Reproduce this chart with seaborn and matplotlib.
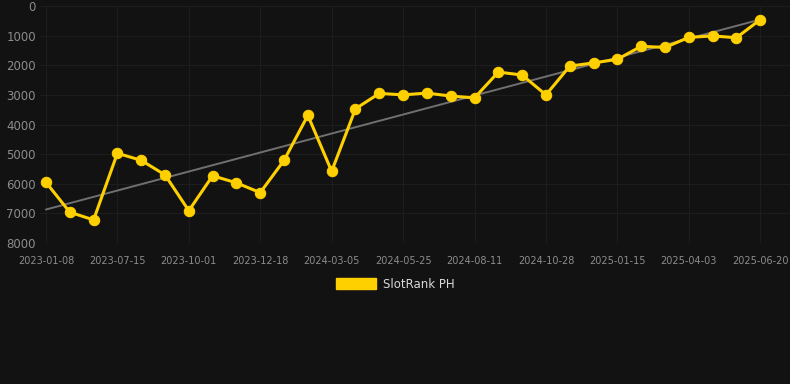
import numpy as np
import pandas as pd
import matplotlib
matplotlib.use("Agg")
import matplotlib.pyplot as plt
import seaborn as sns
from matplotlib.patches import Patch

# rank values (lower is better, axis inverted)
rank = [5950, 6960, 7220, 4970, 5210, 5700, 6910, 5730, 5970, 6300,
        5210, 3690, 5580, 3470, 2950, 3000, 2940, 3040, 3100, 2230,
        2330, 3000, 2030, 1920, 1800, 1360, 1400, 1060, 1010, 1070, 460]
tick_labels = ["2023-01-08", "2023-07-15", "2023-10-01", "2023-12-18",
               "2024-03-05", "2024-05-25", "2024-08-11", "2024-10-28",
               "2025-01-15", "2025-04-03", "2025-06-20"]
y_ticks = [0, 1000, 2000, 3000, 4000, 5000, 6000, 7000, 8000]
series_name = "SlotRank PH"

df = pd.DataFrame({"idx": np.arange(len(rank)), "rank": rank})

bg = "#121212"
yellow = "#FFD000"

sns.set_theme(style="dark")
plt.rcParams["font.family"] = ["DejaVu Sans"]

fig = plt.figure(figsize=(7.9, 3.84), dpi=100, facecolor=bg)
ax = fig.add_axes([40 / 790, 1 - 243 / 384, 750 / 790, 237 / 384])
ax.set_facecolor(bg)

# trend line
sns.regplot(data=df, x="idx", y="rank", scatter=False, ci=None, ax=ax,
            line_kws={"color": "#707070", "linewidth": 1.4}, truncate=True)

sns.lineplot(data=df, x="idx", y="rank", ax=ax, color=yellow, linewidth=2.2,
             marker="o", markersize=7.5, markeredgecolor=yellow, legend=False)

ax.set_ylim(8000, 0)
ax.set_xlim(-0.25, len(rank) - 1 + 1.25)
ax.set_yticks(y_ticks)
ax.set_yticklabels([str(v) for v in y_ticks], fontsize=8.5, color="#8c8c8c")
ax.set_xticks(df["idx"][::3])
ax.set_xticklabels(tick_labels, fontsize=7, color="#8c8c8c")
ax.tick_params(axis="y", length=0, pad=3)
ax.tick_params(axis="x", length=0, pad=9)
ax.set_xlabel("")
ax.set_ylabel("")
ax.grid(True, color="#1d1d1d", linewidth=0.8)
for s in ax.spines.values():
    s.set_visible(False)

fig.legend(handles=[Patch(facecolor=yellow, edgecolor=yellow, label=series_name)],
           loc="center", bbox_to_anchor=(0.5, 1 - 284 / 384), frameon=False,
           fontsize=8.5, labelcolor="#d8d8d8", handlelength=3.4, handleheight=1.0,
           handletextpad=0.6)

fig.savefig("out.png", dpi=100, facecolor=bg)
